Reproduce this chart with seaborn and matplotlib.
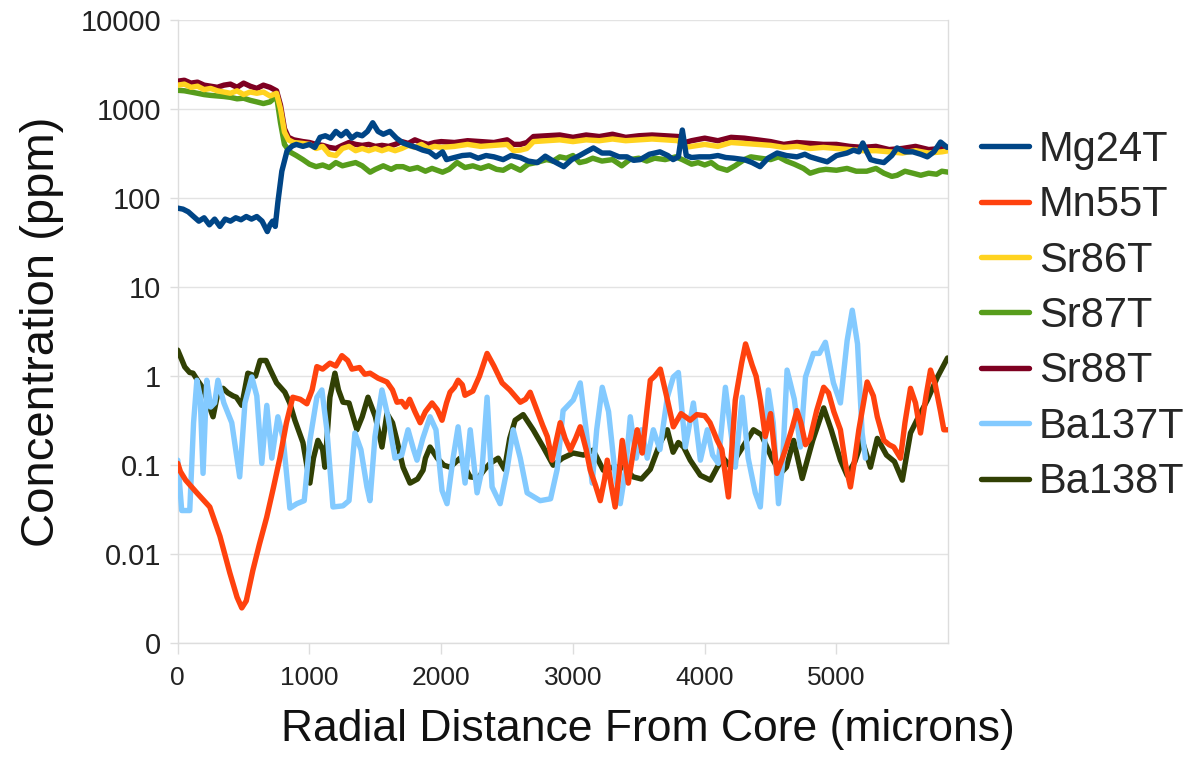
import numpy as np
import pandas as pd
import matplotlib
matplotlib.use("Agg")
import matplotlib.pyplot as plt
import seaborn as sns
from matplotlib.lines import Line2D
from matplotlib.ticker import FixedLocator, NullLocator

# ---------------- data ----------------
mg_x = [0, 40, 80, 120, 160, 200, 240, 280, 320, 360, 400, 440, 480, 520, 560, 600, 640, 680, 700, 720, 740, 760, 790, 830, 870, 900, 950, 1000, 1040, 1080, 1120, 1160, 1200, 1240, 1280, 1320, 1360, 1400, 1440, 1480, 1520, 1560, 1610, 1660, 1710, 1760, 1810, 1860, 1910, 1960, 2010, 2040, 2100, 2160, 2220, 2280, 2340, 2400, 2470, 2530, 2600, 2660, 2730, 2790, 2850, 2930, 2990, 3050, 3100, 3155, 3220, 3280, 3350, 3410, 3460, 3510, 3580, 3660, 3720, 3760, 3800, 3830, 3860, 3900, 3960, 4040, 4100, 4160, 4220, 4300, 4360, 4420, 4480, 4550, 4620, 4700, 4760, 4800, 4870, 4930, 5000, 5080, 5130, 5170, 5200, 5230, 5260, 5300, 5360, 5420, 5460, 5520, 5580, 5640, 5690, 5740, 5790, 5840]
mg_y = [77, 75, 70, 62, 55, 60, 50, 58, 48, 58, 55, 60, 57, 62, 58, 62, 55, 42, 50, 55, 48, 90, 200, 340, 385, 400, 380, 400, 370, 480, 500, 470, 560, 500, 560, 470, 520, 500, 560, 700, 560, 520, 560, 470, 415, 390, 370, 345, 330, 290, 330, 270, 285, 300, 305, 280, 300, 290, 270, 300, 285, 260, 250, 295, 260, 225, 270, 300, 330, 365, 320, 320, 290, 290, 265, 270, 310, 330, 300, 270, 290, 580, 300, 285, 290, 290, 300, 285, 280, 270, 250, 225, 280, 320, 300, 290, 310, 290, 270, 255, 300, 320, 345, 330, 415, 330, 270, 260, 250, 300, 365, 330, 330, 310, 290, 330, 425, 370]

mn_x = [0, 20, 60, 145, 243, 320, 395, 450, 486, 520, 570, 620, 675, 725, 775, 825, 873, 930, 980, 1020, 1056, 1100, 1155, 1200, 1246, 1290, 1322, 1380, 1420, 1460, 1520, 1588, 1630, 1664, 1700, 1730, 1760, 1800, 1840, 1880, 1930, 1970, 2006, 2040, 2067, 2100, 2128, 2160, 2180, 2240, 2290, 2348, 2400, 2462, 2520, 2600, 2640, 2675, 2728, 2770, 2805, 2842, 2870, 2903, 2940, 2979, 3020, 3055, 3100, 3131, 3170, 3207, 3240, 3260, 3290, 3320, 3350, 3374, 3400, 3420, 3460, 3488, 3510, 3526, 3560, 3587, 3620, 3663, 3710, 3762, 3820, 3890, 3940, 4000, 4040, 4095, 4130, 4180, 4232, 4280, 4310, 4360, 4390, 4422, 4460, 4500, 4548, 4590, 4625, 4660, 4700, 4730, 4765, 4800, 4850, 4903, 4940, 4980, 5030, 5070, 5106, 5140, 5170, 5233, 5280, 5310, 5360, 5400, 5435, 5486, 5520, 5562, 5600, 5638, 5680, 5714, 5750, 5790, 5815, 5850]
mn_y = [0.105, 0.085, 0.068, 0.049, 0.034, 0.016, 0.0062, 0.0033, 0.0025, 0.003, 0.0066, 0.013, 0.026, 0.055, 0.12, 0.30, 0.58, 0.55, 0.49, 0.7, 1.28, 1.2, 1.4, 1.3, 1.7, 1.5, 1.2, 1.25, 1.05, 1.08, 0.95, 0.86, 0.7, 0.51, 0.52, 0.45, 0.55, 0.4, 0.30, 0.4, 0.50, 0.42, 0.32, 0.5, 0.66, 0.75, 0.90, 0.8, 0.61, 0.68, 1.0, 1.8, 1.3, 0.84, 0.7, 0.51, 0.55, 0.66, 0.41, 0.28, 0.21, 0.114, 0.18, 0.30, 0.2, 0.148, 0.2, 0.27, 0.15, 0.088, 0.06, 0.040, 0.07, 0.114, 0.06, 0.034, 0.08, 0.19, 0.1, 0.063, 0.15, 0.25, 0.18, 0.137, 0.4, 0.90, 1.0, 1.2, 0.6, 0.27, 0.38, 0.32, 0.37, 0.36, 0.3, 0.19, 0.15, 0.044, 0.54, 1.4, 2.3, 1.33, 1.0, 0.54, 0.21, 0.38, 0.081, 0.12, 0.17, 0.25, 0.41, 0.3, 0.17, 0.2, 0.41, 0.75, 0.65, 0.4, 0.25, 0.1, 0.057, 0.12, 0.25, 0.86, 0.6, 0.35, 0.19, 0.17, 0.16, 0.12, 0.3, 0.73, 0.5, 0.23, 0.6, 1.17, 0.8, 0.4, 0.25, 0.25]

sr86_x = [0, 50, 100, 150, 200, 250, 300, 350, 400, 450, 500, 550, 600, 650, 700, 750, 780, 810, 840, 880, 950, 1000, 1050, 1100, 1150, 1200, 1250, 1300, 1350, 1400, 1450, 1500, 1550, 1600, 1650, 1700, 1750, 1800, 1850, 1900, 1950, 2000, 2100, 2200, 2300, 2400, 2500, 2550, 2600, 2650, 2700, 2800, 2900, 3000, 3100, 3200, 3300, 3400, 3500, 3600, 3700, 3800, 3850, 3900, 4000, 4100, 4200, 4300, 4400, 4500, 4600, 4700, 4800, 4900, 5000, 5100, 5200, 5300, 5400, 5500, 5600, 5700, 5800, 5850]
sr86_y = [1850, 1900, 1750, 1800, 1650, 1700, 1600, 1550, 1500, 1600, 1450, 1550, 1500, 1550, 1400, 1500, 1000, 550, 450, 420, 410, 400, 360, 380, 310, 300, 360, 380, 340, 360, 340, 360, 340, 360, 340, 360, 390, 370, 400, 360, 380, 370, 380, 400, 380, 390, 400, 340, 345, 360, 430, 440, 450, 430, 450, 440, 460, 440, 450, 460, 450, 440, 370, 380, 400, 380, 420, 410, 400, 390, 370, 380, 360, 370, 360, 350, 340, 340, 330, 320, 340, 320, 330, 340]

sr87_x = [0, 50, 100, 150, 200, 250, 300, 350, 400, 450, 500, 550, 600, 650, 700, 750, 780, 810, 850, 900, 950, 1000, 1050, 1100, 1150, 1200, 1250, 1300, 1350, 1400, 1460, 1500, 1560, 1620, 1660, 1710, 1760, 1820, 1880, 1930, 2010, 2060, 2120, 2180, 2240, 2300, 2360, 2420, 2470, 2530, 2600, 2660, 2720, 2800, 2850, 2900, 2950, 3000, 3050, 3100, 3150, 3220, 3300, 3370, 3430, 3500, 3560, 3620, 3700, 3780, 3830, 3900, 3950, 4000, 4050, 4100, 4170, 4230, 4300, 4350, 4420, 4500, 4560, 4620, 4680, 4750, 4800, 4870, 4920, 5000, 5080, 5150, 5230, 5300, 5360, 5420, 5460, 5520, 5580, 5640, 5700, 5760, 5800, 5850]
sr87_y = [1620, 1600, 1550, 1500, 1450, 1420, 1400, 1380, 1350, 1300, 1320, 1250, 1200, 1150, 1200, 1400, 700, 400, 330, 300, 270, 240, 225, 235, 220, 250, 230, 240, 250, 230, 195, 210, 230, 210, 225, 225, 210, 220, 200, 215, 195, 210, 250, 220, 230, 215, 230, 210, 205, 230, 205, 240, 250, 270, 260, 290, 280, 300, 250, 260, 280, 260, 270, 230, 270, 280, 260, 280, 270, 290, 270, 240, 250, 235, 250, 220, 205, 230, 270, 290, 280, 270, 290, 260, 240, 215, 190, 205, 210, 205, 215, 200, 200, 215, 190, 175, 180, 200, 190, 180, 190, 185, 200, 195]

sr88_x = sr86_x
sr88_y = [2050, 2100, 1950, 2000, 1850, 1800, 1750, 1850, 1900, 1750, 1950, 1800, 1700, 1850, 1750, 1600, 1100, 600, 480, 450, 430, 420, 400, 390, 370, 360, 390, 420, 400, 390, 400, 380, 390, 380, 400, 430, 410, 450, 420, 400, 420, 430, 420, 440, 430, 420, 450, 400, 400, 420, 490, 500, 510, 480, 510, 490, 520, 480, 500, 510, 500, 490, 420, 440, 470, 440, 480, 470, 450, 430, 400, 420, 410, 400, 400, 380, 370, 380, 350, 360, 380, 350, 360, 370]

ba137_x = [0, 30, 91, 120, 145, 170, 192, 220, 250, 280, 305, 350, 410, 470, 510, 562, 600, 638, 676, 714, 760, 800, 851, 904, 960, 1003, 1056, 1094, 1132, 1178, 1254, 1300, 1345, 1390, 1436, 1459, 1497, 1550, 1596, 1649, 1700, 1748, 1790, 1816, 1860, 1915, 1960, 2006, 2044, 2090, 2128, 2181, 2220, 2272, 2310, 2348, 2386, 2447, 2500, 2546, 2600, 2652, 2751, 2830, 2880, 2925, 3002, 3055, 3100, 3146, 3180, 3222, 3270, 3320, 3359, 3400, 3435, 3480, 3520, 3564, 3610, 3660, 3716, 3762, 3800, 3853, 3914, 3967, 4020, 4060, 4103, 4157, 4190, 4232, 4285, 4330, 4384, 4422, 4483, 4520, 4560, 4590, 4625, 4680, 4726, 4765, 4825, 4870, 4916, 4977, 5030, 5081, 5120, 5160, 5195, 5220]
ba137_y = [0.114, 0.031, 0.031, 0.3, 0.90, 0.6, 0.081, 0.90, 0.45, 0.5, 0.9, 0.5, 0.30, 0.074, 0.50, 0.98, 0.6, 0.105, 0.47, 0.12, 0.35, 0.2, 0.033, 0.037, 0.04, 0.19, 0.58, 0.70, 0.25, 0.034, 0.035, 0.04, 0.23, 0.15, 0.057, 0.040, 0.21, 0.70, 0.35, 0.12, 0.13, 0.25, 0.15, 0.114, 0.2, 0.35, 0.25, 0.052, 0.037, 0.12, 0.27, 0.063, 0.25, 0.049, 0.09, 0.58, 0.057, 0.037, 0.09, 0.25, 0.12, 0.049, 0.040, 0.042, 0.09, 0.41, 0.54, 0.84, 0.25, 0.063, 0.25, 0.75, 0.4, 0.08, 0.037, 0.09, 0.35, 0.12, 0.25, 0.12, 0.25, 0.15, 0.58, 0.98, 1.1, 0.16, 0.50, 0.114, 0.25, 0.13, 0.105, 0.75, 0.3, 0.095, 0.58, 0.12, 0.049, 0.034, 0.70, 0.3, 0.037, 0.1, 1.17, 0.55, 0.16, 0.98, 1.8, 1.8, 2.4, 0.84, 0.50, 2.5, 5.5, 2.3, 0.23, 0.12]

ba138_x = [0, 25, 53, 90, 116, 150, 192, 230, 268, 300, 344, 380, 420, 445, 486, 532, 590, 625, 670, 700, 750, 813, 850, 889, 950, 1003, 1030, 1064, 1100, 1117, 1155, 1193, 1220, 1254, 1300, 1360, 1400, 1444, 1500, 1550, 1588, 1630, 1660, 1710, 1763, 1820, 1862, 1880, 1915, 1970, 2020, 2067, 2143, 2219, 2280, 2330, 2371, 2432, 2480, 2520, 2561, 2622, 2698, 2774, 2850, 2920, 3002, 3080, 3153, 3230, 3300, 3380, 3457, 3520, 3587, 3663, 3716, 3760, 3800, 3840, 3890, 3967, 4043, 4095, 4141, 4200, 4250, 4310, 4370, 4430, 4510, 4575, 4620, 4675, 4740, 4820, 4903, 4960, 5030, 5081, 5140, 5195, 5258, 5310, 5380, 5440, 5500, 5562, 5623, 5690, 5767, 5843]
ba138_y = [1.96, 1.6, 1.27, 1.1, 1.08, 0.9, 0.73, 0.5, 0.35, 0.6, 0.73, 0.65, 0.6, 0.58, 0.47, 1.08, 1.0, 1.5, 1.5, 1.2, 0.84, 0.66, 0.5, 0.32, 0.18, 0.063, 0.12, 0.19, 0.15, 0.095, 0.58, 1.08, 0.7, 0.51, 0.5, 0.25, 0.35, 0.58, 0.35, 0.16, 0.38, 0.3, 0.2, 0.095, 0.063, 0.07, 0.088, 0.12, 0.16, 0.12, 0.1, 0.095, 0.12, 0.074, 0.072, 0.09, 0.105, 0.12, 0.09, 0.2, 0.32, 0.37, 0.25, 0.16, 0.10, 0.12, 0.137, 0.13, 0.148, 0.088, 0.095, 0.095, 0.074, 0.07, 0.09, 0.18, 0.25, 0.14, 0.18, 0.16, 0.114, 0.077, 0.068, 0.095, 0.12, 0.095, 0.13, 0.18, 0.25, 0.22, 0.12, 0.081, 0.095, 0.19, 0.071, 0.19, 0.44, 0.25, 0.114, 0.077, 0.11, 0.19, 0.095, 0.2, 0.13, 0.11, 0.068, 0.23, 0.35, 0.54, 0.98, 1.6]

series_names = ["Mg24T", "Mn55T", "Sr86T", "Sr87T", "Sr88T", "Ba137T", "Ba138T"]
series_colors = ["#004586", "#ff420e", "#ffd320", "#579d1c", "#7e0021", "#83caff", "#314004"]
series_data = [(mg_x, mg_y), (mn_x, mn_y), (sr86_x, sr86_y), (sr87_x, sr87_y),
               (sr88_x, sr88_y), (ba137_x, ba137_y), (ba138_x, ba138_y)]

y_tick_vals = [0.001, 0.01, 0.1, 1, 10, 100, 1000, 10000]
y_tick_labels = ["0", "0.01", "0.1", "1", "10", "100", "1000", "10000"]
x_tick_vals = [0, 1000, 2000, 3000, 4000, 5000]

# ---------------- plotting ----------------
sns.set_theme(style="white")
plt.rcParams["font.family"] = ["Liberation Sans", "DejaVu Sans"]

frames = []
for name, (xs, ys) in zip(series_names, series_data):
    frames.append(pd.DataFrame({"x": xs, "y": ys, "series": name}))
df = pd.concat(frames, ignore_index=True)

fig = plt.figure(figsize=(11.93, 7.65), dpi=100)
ax = fig.add_axes([0.149, 0.159, 0.646, 0.815])

lw = 3.9
n = len(series_names)
for i, (name, color) in enumerate(zip(series_names, series_colors)):
    sub = df[df["series"] == name]
    sns.lineplot(data=sub, x="x", y="y", ax=ax, color=color, lw=lw,
                 sort=False, estimator=None, zorder=10 + (n - i),
                 solid_joinstyle="round", solid_capstyle="round", legend=False)

ax.set_yscale("log")
ax.set_ylim(0.001, 10000)
ax.set_xlim(0, 5850)
ax.yaxis.set_major_locator(FixedLocator(y_tick_vals))
ax.yaxis.set_minor_locator(NullLocator())
ax.set_yticklabels(y_tick_labels)
ax.set_xticks(x_tick_vals)
ax.set_xticklabels([str(v) for v in x_tick_vals])

ax.grid(axis="y", color="#e3e3e3", lw=1.0)
ax.grid(axis="x", visible=False)
for s in ["left", "bottom", "right"]:
    ax.spines[s].set_color("#dddddd")
    ax.spines[s].set_linewidth(1.0)
ax.spines["top"].set_visible(False)

ax.tick_params(axis="y", which="major", length=6, width=1, color="#dddddd",
               labelsize=21, pad=6, labelcolor="#222222", left=True)
ax.tick_params(axis="x", which="major", length=8, width=1, color="#dddddd",
               labelsize=19, pad=8, labelcolor="#222222", bottom=True)

ax.set_xlabel("Radial Distance From Core (microns)", fontsize=32, labelpad=16, color="#111111")
ax.xaxis.set_label_coords(0.61, -0.105)
ax.set_ylabel("Concentration (ppm)", fontsize=34, labelpad=12, color="#111111")

handles = [Line2D([0], [0], color=c, lw=lw) for c in series_colors]
fig.legend(handles, series_names, loc="center left", bbox_to_anchor=(0.822, 0.587),
           frameon=False, fontsize=30, handlelength=1.15, handletextpad=0.25,
           labelspacing=0.37, borderpad=0, borderaxespad=0)

fig.savefig("out.png", dpi=100)
